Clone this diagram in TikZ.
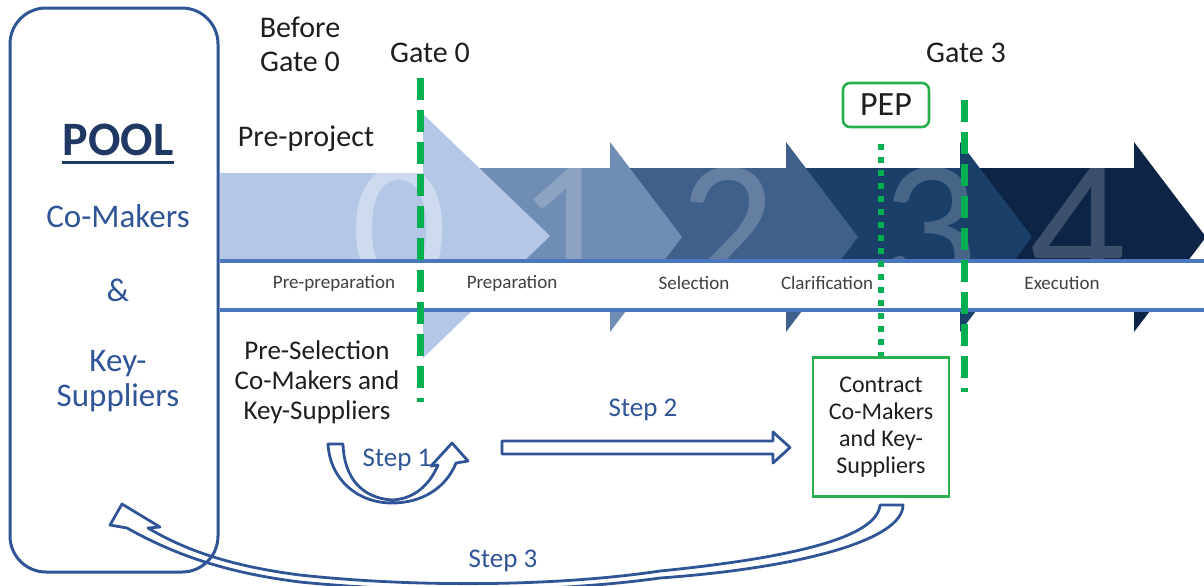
\documentclass[tikz,border=0pt]{standalone}
\usepackage{fontspec}
\setmainfont{Carlito}
\usetikzlibrary{positioning}

\definecolor{poolblue}{RGB}{47,85,151}
\definecolor{poolnavy}{RGB}{31,56,100}
\definecolor{stripblue}{RGB}{75,118,192}
\definecolor{gategreen}{RGB}{0,176,80}
\definecolor{boxgreen}{RGB}{40,176,76}
\definecolor{chevzero}{RGB}{180,199,231}
\definecolor{chevone}{RGB}{112,141,179}
\definecolor{chevtwo}{RGB}{62,96,138}
\definecolor{chevthree}{RGB}{26,64,106}
\definecolor{chevfour}{RGB}{12,37,70}
\definecolor{darktext}{RGB}{30,30,30}

\begin{document}
\begin{tikzpicture}[x=0.5pt, y=-0.5pt]
        \tikzstyle{every node}=[inner sep=0pt, align=center, text=darktext]
        \tikzstyle{headtext}=[font=\fontsize{15}{17}\selectfont]
        \tikzstyle{sidetext}=[font=\fontsize{13.5}{15}\selectfont]
        \tikzstyle{striptext}=[font=\fontsize{9.5}{11}\selectfont, text=black!75]
        \tikzstyle{steptext}=[font=\fontsize{13.5}{15}\selectfont, text=poolblue]
        \tikzstyle{poolword}=[font=\fontsize{16.5}{17.5}\selectfont, text=poolblue]
        \tikzstyle{bignum}=[font=\fontsize{95}{95}\selectfont, text=white, text opacity=0.2, anchor=base]
        \tikzstyle{gateline}=[gategreen, line width=3.5pt, dash pattern=on 11pt off 5pt]
        \tikzstyle{pepline}=[gategreen, line width=3pt, dash pattern=on 3pt off 3.5pt]
        \tikzstyle{blockarrow}=[poolblue, line width=1.4pt, line join=round]

        \useasboundingbox (0,0) rectangle (1204,585);
        \clip (0,0) rectangle (1204,585);

% phase chevrons, drawn from the back
        \foreach \xs/\xb/\col in {960/1134/chevfour, 786/960/chevthree, 610/786/chevtwo, 423/610/chevone}
            \fill[\col] (\xs,168) -- (\xb,168) -- (\xb,142) -- (\xb+72,237) -- (\xb,332) -- (\xb,310) -- (\xs,310) -- cycle;
        \fill[chevzero] (220,173) -- (423,173) -- (423,114) -- (550,236) -- (423,358) -- (423,310) -- (220,310) -- cycle;

        \begin{scope}
            \clip (220,100) rectangle (1204,261);
            \node[bignum, text opacity=0.35] (num0) at (400,290) {0};
            \foreach \d/\xd in {1/566, 2/728, 3/930, 4/1078}
                \node[bignum] (num\d) at (\xd,290) {\d};
        \end{scope}

% white strip with the phase names
        \fill[white] (220,261) rectangle (1204,310);
        \draw[stripblue, line width=2pt] (220,261) -- (1204,261) (220,310) -- (1204,310);

        \node[striptext] (preprep) at (334,283) {Pre-preparation};
        \node[striptext] (prep) at (512,283) {Preparation};
        \node[striptext] (selection) at (694,283) {Selection};
        \node[striptext] (clarif) at (827,283) {Clarification};
        \node[striptext] (execution) at (1062,283) {Execution};

% gates
        \coordinate (gzerotop) at (420,78);
        \coordinate (gzerobot) at (420,402);
        \coordinate (gthreetop) at (964,100);
        \coordinate (gthreebot) at (964,392);
        \draw[gateline] (gzerotop) -- (gzerobot);
        \draw[gateline] (gthreetop) -- (gthreebot);

        \node[headtext] (before) at (300,44) {Before\\Gate 0};
        \node[headtext] (gatezero) at (430,53) {Gate 0};
        \node[headtext] (gatethree) at (966,53) {Gate 3};
        \node[headtext] (preproject) at (306,139) {Pre-project};
        \node[sidetext] (preselect) at (317,382) {Pre-Selection\\Co-Makers and\\Key-Suppliers};

        \node[draw=boxgreen, line width=1.3pt, rounded corners=3.5pt, minimum width=43pt, minimum height=22pt, font=\fontsize{17}{17}\selectfont] (pep) at (886,105) {PEP};
        \node[draw=boxgreen, line width=1.25pt, minimum width=68pt, minimum height=69.5pt, font=\fontsize{12}{13.5}\selectfont] (contract) at (881,427) {Contract\\Co-Makers\\and Key-\\Suppliers};
        \draw[pepline] ([yshift=-8pt]pep.south -| contract.north) -- (contract.north);

% pool
        \node[draw=poolblue, line width=1.5pt, rounded corners=18pt, minimum width=104pt, minimum height=282pt] (pool) at (114,290) {};
        \node[font=\fontsize{24}{24}\selectfont\bfseries, text=poolnavy, anchor=base] (pooltitle) at (118,155) {POOL};
        \draw[poolnavy, line width=1.5pt] ([yshift=-3.5pt]pooltitle.base west) -- ([yshift=-3.5pt]pooltitle.base east);
        \node[poolword] (comakers) at (118,216) {Co-Makers};
        \node[poolword] (amp) at (118,290) {\&};
        \node[poolword] (keysup) at (118,381) {Key-\\Suppliers};

% steps
        \draw[blockarrow] (328,444) -- (343,444) .. controls (344,478) and (362,498) .. (392,500)
            .. controls (415,499) and (430,484) .. (438,465) -- (431,466) -- (452,443) -- (468,461) -- (456,463)
            .. controls (446,488) and (422,503) .. (392,503) .. controls (358,503) and (330,480) .. cycle;
        \draw[blockarrow] (502,441) -- (773,441) -- (773,432) -- (790,447.5) -- (773,463) -- (773,454) -- (502,454) -- cycle;
        \draw[blockarrow] (880,505) -- (903,505) .. controls (903,540) and (800,568) .. (660,578)
            .. controls (560,592) and (420,594) .. (300,582) .. controls (220,572) and (170,552) .. (127,528)
            -- (110,525) -- (122,504) -- (160,527) -- (148,528)
            .. controls (185,550) and (230,566) .. (300,575) .. controls (420,588) and (560,586) .. (660,571)
            .. controls (790,558) and (877,538) .. cycle;

        \node[steptext] (stepone) at (397,460) {Step 1};
        \node[steptext] (steptwo) at (643,410) {Step 2};
        \node[steptext] (stepthree) at (503,561) {Step 3};

    \end{tikzpicture}
\end{document}
